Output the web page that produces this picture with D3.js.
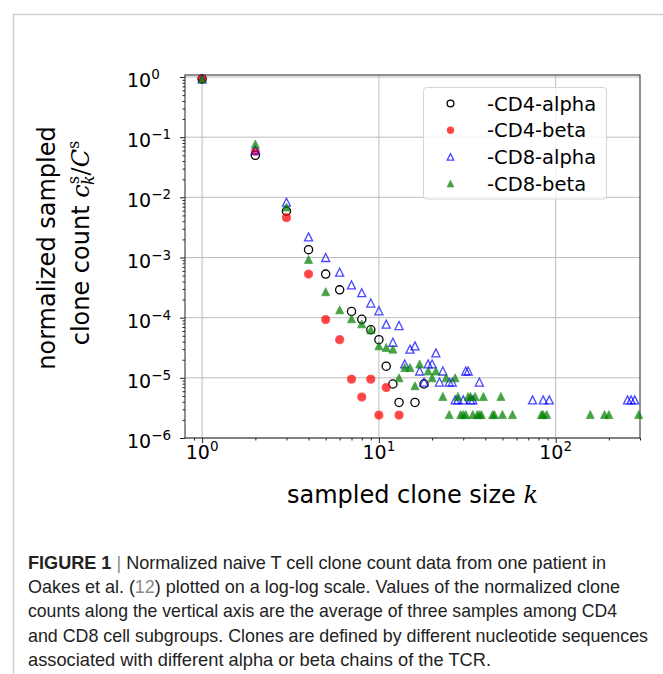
<!DOCTYPE html>
<html>
<head>
<meta charset="utf-8">
<script src="https://cdn.jsdelivr.net/npm/d3@7"></script>
<style>
	body { margin: 0; background: #fff; }
	svg text { font-family: "DejaVu Sans", sans-serif; fill: #000; }
</style>
</head>
<body>
<div id="chart"></div>
<script>

// valores: tamano de clon k y conteo normalizado
var cd4AlphaK = [1, 2, 3, 4, 5, 6, 7, 8, 9, 10, 11, 12, 13, 16, 18],
	cd4AlphaV = [0.93, 0.05, 0.0059, 1.35e-3, 5.3e-4, 2.9e-4, 1.27e-4, 9.4e-5, 6.3e-5, 4.3e-5, 1.56e-5, 7.9e-6, 3.9e-6, 3.9e-6, 7.9e-6];

var cd4BetaK = [1, 2, 3, 4, 5, 6, 7, 8, 9, 10, 11, 13],
	cd4BetaV = [0.93, 0.058, 0.0046, 5.3e-4, 9.3e-5, 4.3e-5, 9.5e-6, 4.8e-6, 9.5e-6, 2.4e-6, 6.9e-6, 2.4e-6];

var cd8AlphaK = [1, 2, 3, 4, 5, 6, 7, 8, 9, 10, 11, 12, 13, 14, 15, 16, 17, 18, 19, 20, 21, 22, 23, 25, 26,
		27, 28, 30, 31, 32, 33, 34, 37, 74, 85, 92, 255, 267, 280],
	cd8AlphaV = [0.93, 0.061, 0.0083, 2.2e-3, 1.0e-3, 5.7e-4, 3.5e-4, 2.6e-4, 1.75e-4, 1.3e-4, 7.8e-5, 3.9e-5, 7.4e-5,
		1.7e-5, 3.0e-5, 3.4e-5, 1.3e-5, 8.5e-6, 1.7e-5, 1.7e-5, 2.6e-5, 8.5e-6, 1.3e-5, 8.5e-6, 8.5e-6,
		4.3e-6, 4.3e-6, 4.3e-6, 1.3e-5, 1.3e-5, 4.3e-6, 4.3e-6, 8.5e-6, 4.3e-6, 4.3e-6, 4.3e-6, 4.3e-6, 4.3e-6, 4.3e-6];

var cd8BetaK = [1, 2, 3, 4, 5, 6, 7, 8, 9, 10, 11, 12, 13, 14, 15, 16, 17, 19, 20, 21, 23, 24, 25, 27, 28, 29,
		30, 31, 32, 33, 34, 35, 36, 37, 38, 39, 44, 45, 49, 50, 57, 83, 85, 89, 157, 189, 200, 295],
	cd8BetaV = [0.93, 0.077, 0.0069, 9.3e-4, 2.7e-4, 1.35e-4, 9.6e-5, 7.9e-5, 6.3e-5, 3.4e-5, 3.2e-5, 3.0e-5, 1.0e-5,
		1.48e-5, 1.48e-5, 7.4e-6, 1.7e-5, 1.3e-5, 1.0e-5, 1.3e-5, 4.9e-6, 1.0e-5, 2.45e-6, 1.0e-5, 4.9e-6, 2.45e-6,
		2.45e-6, 2.45e-6, 4.9e-6, 4.9e-6, 2.45e-6, 4.9e-6, 2.45e-6, 2.45e-6, 2.45e-6, 4.9e-6, 2.45e-6, 2.45e-6,
		4.9e-6, 2.45e-6, 2.45e-6, 2.45e-6, 2.45e-6, 2.45e-6, 2.45e-6, 2.45e-6, 2.45e-6, 2.45e-6];

var seriesNames = ['-CD4-alpha', '-CD4-beta', '-CD8-alpha', '-CD8-beta'];
var xTickExp = [0, 1, 2],
	yTickExp = [0, -1, -2, -3, -4, -5, -6];

var captionLines = [
	[['FIGURE 1', 'b'], [' | ', 'g'], ['Normalized naive T cell clone count data from one patient in', '']],
	[['Oakes et al. (', ''], ['12', 'g'], [') plotted on a log-log scale. Values of the normalized clone', '']],
	[['counts along the vertical axis are the average of three samples among CD4', '']],
	[['and CD8 cell subgroups. Clones are defined by different nucleotide sequences', '']],
	[['associated with different alpha or beta chains of the TCR.', '']]
];
var captionWidths = [578, 592, 589, 620, 463];

function drawChart(frameid) {

	var width = 663, height = 674,
		pLeft = 185, pRight = 640, pTop = 75, pBottom = 438;

	var svg = d3.select(frameid).append('svg')
		.attr('width', width)
		.attr('height', height)

	// marco de la figura
	svg.append('rect')
		.attr('x', 13.5).attr('y', 14.5)
		.attr('width', 720).attr('height', 720)
		.style('fill', 'none').style('stroke', '#cfcfcf').style('stroke-width', 1.5)

	var x = d3.scaleLog().domain([0.8, 300]).range([pLeft, pRight]),
		y = d3.scaleLog().domain([1e-6, 1.08]).range([pBottom, pTop]);

	// rejilla en las potencias de 10
	var grid = svg.append('g').style('stroke', '#bdbdbd').style('stroke-width', 1)
	grid.selectAll('.gx').data(xTickExp).enter().append('line')
		.attr('x1', function (e) { return x(Math.pow(10, e)) }).attr('x2', function (e) { return x(Math.pow(10, e)) })
		.attr('y1', pTop).attr('y2', pBottom)
	grid.selectAll('.gy').data(yTickExp).enter().append('line')
		.attr('y1', function (e) { return y(Math.pow(10, e)) }).attr('y2', function (e) { return y(Math.pow(10, e)) })
		.attr('x1', pLeft).attr('x2', pRight)

	// ejes: marcas mayores y menores
	var isMajor = function (v) { return Math.abs(Math.log10(v) - Math.round(Math.log10(v))) < 1e-9 }
	var xMinor = x.ticks().filter(function (v) { return !isMajor(v) && v > 0.8 }),
		yMinor = y.ticks().filter(function (v) { return !isMajor(v) });

	svg.append('g').attr('transform', 'translate(0,' + pBottom + ')')
		.call(d3.axisBottom(x).tickValues(xMinor).tickSize(2.5).tickFormat(''))
	svg.append('g').attr('transform', 'translate(0,' + pBottom + ')')
		.call(d3.axisBottom(x).tickValues(xTickExp.map(function (e) { return Math.pow(10, e) })).tickSize(5).tickFormat(''))
	svg.append('g').attr('transform', 'translate(' + pLeft + ',0)')
		.call(d3.axisLeft(y).tickValues(yMinor).tickSize(2.5).tickFormat(''))
	svg.append('g').attr('transform', 'translate(' + pLeft + ',0)')
		.call(d3.axisLeft(y).tickValues(yTickExp.map(function (e) { return Math.pow(10, e) })).tickSize(5).tickFormat(''))
	svg.selectAll('.domain').remove()
	svg.selectAll('.tick line').style('stroke', '#222')

	var supText = function (sel, e) {
		sel.append('tspan').text('10')
		sel.append('tspan').attr('dy', -8).style('font-size', '13.5px').text(String(e).replace('-', '\u2212'))
	}

	svg.selectAll('.xlab').data(xTickExp).enter().append('text')
		.attr('x', function (e) { return x(Math.pow(10, e)) })
		.attr('y', pBottom + 21)
		.attr('text-anchor', 'middle')
		.style('font-size', '19px')
		.each(function (e) { supText(d3.select(this), e) })

	svg.selectAll('.ylab').data(yTickExp).enter().append('text')
		.attr('x', 127)
		.attr('y', function (e) { return y(Math.pow(10, e)) + 10 })
		.style('font-size', '19px')
		.each(function (e) { supText(d3.select(this), e) })

	// marco del area de dibujo
	svg.append('rect')
		.attr('x', pLeft).attr('y', pTop)
		.attr('width', pRight - pLeft).attr('height', pBottom - pTop)
		.style('fill', 'none').style('stroke', '#222').style('stroke-width', 1)

	// simbolos
	var tri = function (s) { return 'M0,' + (-s) + 'L' + s + ',' + s + 'L' + (-s) + ',' + s + 'Z' }

	var styles = [
		{ kind: 'circle', fill: 'none', stroke: '#000', op: 1 },
		{ kind: 'circle', fill: '#ff0000', stroke: '#ff0000', op: 0.72 },
		{ kind: 'tri', fill: 'none', stroke: '#0000ff', op: 0.72 },
		{ kind: 'tri', fill: '#008000', stroke: '#008000', op: 0.72 }
	];

	var series = [
		{ k: cd4AlphaK, v: cd4AlphaV },
		{ k: cd4BetaK, v: cd4BetaV },
		{ k: cd8AlphaK, v: cd8AlphaV },
		{ k: cd8BetaK, v: cd8BetaV }
	];

	var drawMark = function (g, st, cx, cy, s) {
		var m
		if (st.kind == 'circle')
			m = g.append('circle').attr('cx', cx).attr('cy', cy).attr('r', s)
		else
			m = g.append('path').attr('d', tri(s)).attr('transform', 'translate(' + cx + ',' + cy + ')')
		m.style('fill', st.fill).style('stroke', st.stroke).style('stroke-width', st.fill == 'none' ? 1.3 : 0.8)
			.style('opacity', st.op)
	}

	var marks = svg.append('g')
	series.forEach(function (s, i) {
		s.k.forEach(function (k, j) {
			drawMark(marks, styles[i], x(k), y(s.v[j]), styles[i].kind == 'circle' ? 4.1 : 4.0)
		})
	})

	// leyenda
	var legend = svg.append('g')
	legend.append('rect')
		.attr('x', 423.5).attr('y', 87.5).attr('width', 183).attr('height', 111.5).attr('rx', 3)
		.style('fill', '#fff').style('fill-opacity', 0.8).style('stroke', '#d6d6d6')
	seriesNames.forEach(function (name, i) {
		var ly = 103.5 + i * 26.7
		drawMark(legend, styles[i], 450.5, ly, styles[i].kind == 'circle' ? 3.4 : 3.3)
		legend.append('text').attr('x', 487).attr('y', ly + 7).style('font-size', '19.5px').text(name)
	})

	// titulos de los ejes
	var xt = svg.append('text')
		.attr('x', (pLeft + pRight) / 2).attr('y', 503)
		.attr('text-anchor', 'middle').style('font-size', '24px')
	xt.append('tspan').text('sampled clone size ')
	xt.append('tspan').style('font-style', 'italic').style('font-family', 'DejaVu Serif').text('k')

	svg.append('text')
		.attr('transform', 'translate(55,248) rotate(-90)')
		.attr('text-anchor', 'middle').style('font-size', '24px')
		.text('normalized sampled')

	var yt = svg.append('text')
		.attr('transform', 'translate(89,243) rotate(-90)')
		.attr('text-anchor', 'middle').style('font-size', '24px')
	yt.append('tspan').text('clone count ')
	yt.append('tspan').style('font-style', 'italic').style('font-family', 'DejaVu Serif').text('c')
	yt.append('tspan').attr('dy', -10).style('font-size', '16px').style('font-family', 'DejaVu Serif').text('s')
	yt.append('tspan').attr('dx', -9).attr('dy', 15).style('font-size', '16px').style('font-style', 'italic').style('font-family', 'DejaVu Serif').text('k')
	yt.append('tspan').attr('dy', -5).style('font-family', 'DejaVu Serif').text('/')
	yt.append('tspan').style('font-style', 'italic').style('font-family', 'DejaVu Serif').text('C')
	yt.append('tspan').attr('dy', -10).style('font-size', '16px').style('font-family', 'DejaVu Serif').text('s')

	// pie de figura
	captionLines.forEach(function (line, i) {
		var t = svg.append('text')
			.attr('x', 28).attr('y', 569 + i * 24.2)
			.attr('textLength', captionWidths[i]).attr('lengthAdjust', 'spacingAndGlyphs')
			.style('font-family', '"Liberation Sans Narrow", "Liberation Sans", sans-serif')
			.style('font-size', '18.5px')
		line.forEach(function (seg) {
			t.append('tspan').text(seg[0])
				.style('font-weight', seg[1] == 'b' ? 'bold' : 'normal')
				.style('fill', seg[1] == 'g' ? '#8a8a8a' : '#222')
		})
	})
}

drawChart('#chart')

</script>
</body>
</html>
